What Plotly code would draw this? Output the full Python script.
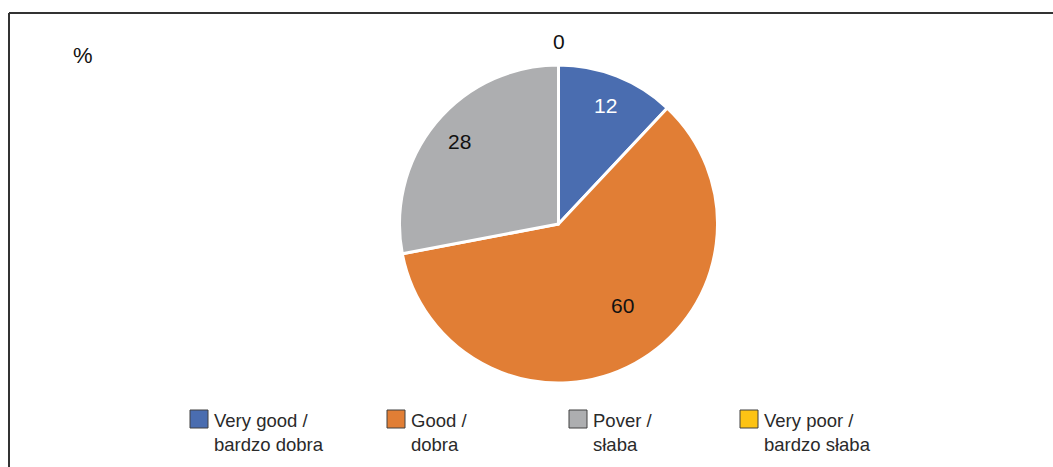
import math
import plotly.graph_objects as go

# Data
categories = ["Very good /<br>bardzo dobra", "Good /<br>dobra", "Pover /<br>słaba", "Very poor /<br>bardzo słaba"]
values = [12, 60, 28, 0]
colors = ["#4a6db0", "#e17e35", "#adaeb0", "#fdc314"]
label_colors = ["#ffffff", "#111111", "#111111", "#111111"]
label_radius = [0.80, 0.65, 0.81, 1.15]  # fraction of pie radius (style)
label_angle_shift = [0, -9.3, 0, 0]      # degrees (style)

W, H = 1053, 467
FONT = "Liberation Sans, Arial, sans-serif"

# pie geometry in pixels
CX, CY, R = 558.5, 224, 159

fig = go.Figure()
fig.add_trace(go.Pie(
    values=values,
    labels=categories,
    sort=False,
    direction="clockwise",
    rotation=0,
    marker=dict(colors=colors, line=dict(color="#ffffff", width=3)),
    textinfo="none",
    domain=dict(x=[(CX - R) / W, (CX + R) / W], y=[1 - (CY + R) / H, 1 - (CY - R) / H]),
    showlegend=False,
    hoverinfo="label+value",
))

shapes = [
    dict(type="line", xref="paper", yref="paper", x0=9 / W, x1=9 / W, y0=-0.05, y1=1 - 13 / H,
         line=dict(color="#333333", width=2)),
    dict(type="line", xref="paper", yref="paper", x0=9 / W, x1=1.05, y0=1 - 13 / H, y1=1 - 13 / H,
         line=dict(color="#333333", width=2)),
]
annotations = [
    dict(text="%", x=71 / W, y=1 - 55 / H, xref="paper", yref="paper", xanchor="left", yanchor="middle",
         showarrow=False, font=dict(family=FONT, size=22, color="#111111")),
]

# value labels placed at the mid-angle of each slice
total = sum(values)
cum = 0
for v, col, rf, sh in zip(values, label_colors, label_radius, label_angle_shift):
    theta = math.radians((cum + v / 2) / total * 360 + sh)
    cum += v
    px = CX + rf * R * math.sin(theta)
    py = CY - rf * R * math.cos(theta)
    annotations.append(dict(text=str(v), x=px / W, y=1 - py / H, xref="paper", yref="paper",
                            xanchor="center", yanchor="middle", showarrow=False,
                            font=dict(family=FONT, size=21, color=col)))

# Custom legend built from categories/colors
legend_x = [190, 387, 569, 740]
for cat, col, lx in zip(categories, colors, legend_x):
    shapes.append(dict(type="rect", xref="paper", yref="paper",
                       x0=lx / W, x1=(lx + 18) / W, y0=1 - 428 / H, y1=1 - 410 / H,
                       fillcolor=col, line=dict(color="#404040", width=1)))
    lines = cat.split("<br>")
    for i, ln in enumerate(lines):
        annotations.append(dict(text=ln, x=(lx + 22) / W, y=1 - (420 + 24 * i) / H, xref="paper", yref="paper",
                                xanchor="left", yanchor="middle", align="left", showarrow=False,
                                font=dict(family=FONT, size=18.5, color="#2a2a2a")))

fig.update_layout(
    width=W, height=H,
    margin=dict(l=0, r=0, t=0, b=0),
    paper_bgcolor="#ffffff",
    plot_bgcolor="#ffffff",
    shapes=shapes,
    annotations=annotations,
    showlegend=False,
)

fig.write_html("out.html", config={"displayModeBar": False},
               post_script="document.body.style.margin='0';document.body.style.overflow='hidden';")
